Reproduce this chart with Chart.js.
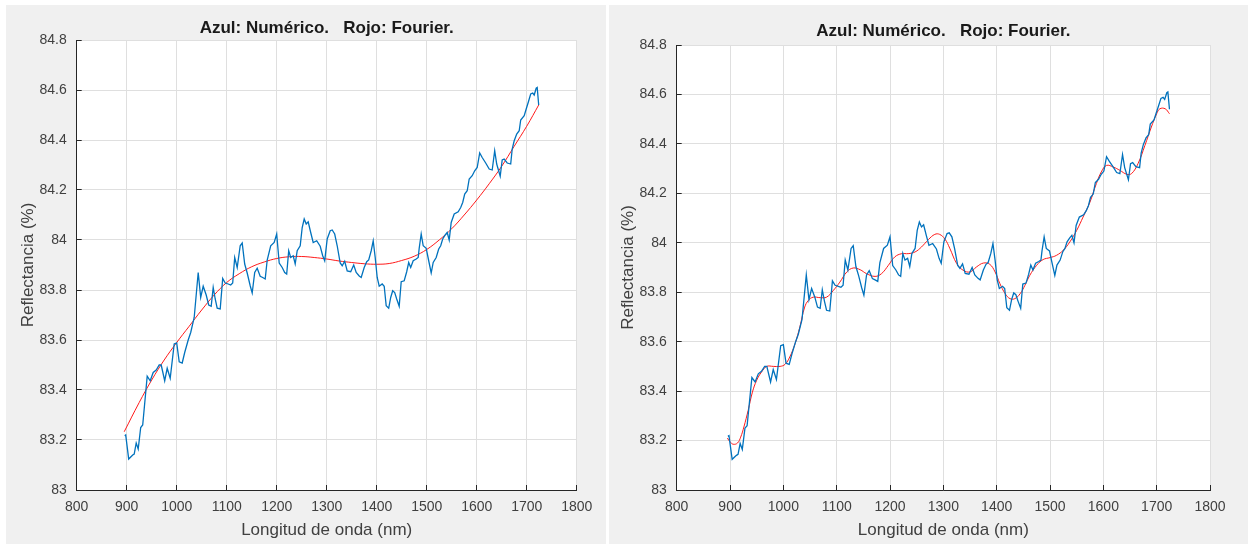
<!DOCTYPE html>
<html>
<head>
<meta charset="utf-8">
<script src="https://cdn.jsdelivr.net/npm/chart.js@4.4.1/dist/chart.umd.min.js"></script>
<style>
  body { margin: 0; background: #fff; width: 1248px; height: 544px; overflow: hidden; position: relative; }
  .panel { position: absolute; top: 5px; height: 539px; background: #f0f0f0; }
  #panelLeft { left: 6px; width: 600px; }
  #panelRight { left: 609px; width: 639px; }
  canvas { display: block; }
</style>
</head>
<body>
<div class="panel" id="panelLeft"><canvas id="chartPoly" width="600" height="539"></canvas></div>
<div class="panel" id="panelRight"><canvas id="chartFourier" width="639" height="539"></canvas></div>
<script>
// measured reflectance (blue)
const wavelength = [896, 898, 904, 912, 915, 919, 923, 928, 932, 938, 941, 947, 953, 959, 965, 969, 976, 981, 987, 995,
  1000, 1005, 1011, 1016, 1023, 1028, 1035, 1043, 1048, 1053, 1059, 1064, 1069, 1073, 1077, 1081, 1087, 1092, 1097,
  1103, 1108, 1112, 1116, 1121, 1127, 1131, 1136, 1141, 1147, 1151, 1156, 1161, 1167, 1172, 1177, 1181, 1188, 1195,
  1200, 1205, 1211, 1216, 1220, 1224, 1228, 1233, 1237, 1241, 1247, 1251, 1255, 1259, 1263, 1268, 1273, 1280, 1287,
  1292, 1296, 1301, 1307, 1311, 1316, 1321, 1327, 1331, 1336, 1341, 1348, 1354, 1359, 1365, 1369, 1375, 1380, 1384,
  1389, 1393, 1397, 1401, 1405, 1411, 1415, 1419, 1424, 1428, 1432, 1436, 1440, 1445, 1449, 1455, 1460, 1464, 1468,
  1473, 1479, 1483, 1485, 1489, 1493, 1499, 1504, 1509, 1513, 1519, 1524, 1528, 1532, 1537, 1541, 1545, 1549, 1555,
  1563, 1568, 1572, 1576, 1581, 1585, 1591, 1596, 1601, 1606, 1611, 1618, 1625, 1631, 1636, 1640, 1647, 1651, 1655,
  1661, 1668, 1671, 1675, 1680, 1685, 1688, 1695, 1699, 1703, 1708, 1712, 1715, 1719, 1721, 1724];
const reflectance = [83.217, 83.22, 83.124, 83.14, 83.144, 83.188, 83.164, 83.25, 83.26, 83.39, 83.455, 83.437, 83.47, 83.48, 83.5, 83.5, 83.437, 83.487, 83.447, 83.584,
  83.588, 83.513, 83.508, 83.55, 83.6, 83.63, 83.69, 83.87, 83.77, 83.815, 83.78, 83.74, 83.735, 83.81, 83.764, 83.727, 83.724, 83.846, 83.828,
  83.824, 83.82, 83.828, 83.93, 83.89, 83.977, 83.988, 83.904, 83.868, 83.817, 83.788, 83.87, 83.887, 83.855, 83.85, 83.844, 83.92, 83.977, 83.99,
  84.024, 83.908, 83.89, 83.87, 83.864, 83.957, 83.93, 83.937, 83.904, 83.957, 83.977, 84.05, 84.084, 84.064, 84.073, 84.03, 83.99, 83.997, 83.975,
  83.937, 83.917, 84.004, 84.037, 84.04, 84.024, 83.977, 83.908, 83.897, 83.915, 83.876, 83.873, 83.9, 83.87, 83.856, 83.85, 83.89, 83.913, 83.92,
  83.957, 83.997, 83.93, 83.85, 83.815, 83.824, 83.815, 83.737, 83.727, 83.77, 83.797, 83.79, 83.764, 83.735, 83.833, 83.837, 83.873, 83.91, 83.89,
  83.917, 83.924, 83.93, 83.967, 84.024, 83.977, 83.967, 83.917, 83.868, 83.91, 83.93, 83.964, 83.977, 84.004, 84.02, 84.03, 84.0, 84.07, 84.104,
  84.113, 84.13, 84.15, 84.184, 84.197, 84.244, 84.257, 84.277, 84.29, 84.348, 84.33, 84.308, 84.284, 84.28, 84.357, 84.304, 84.255, 84.32, 84.324,
  84.308, 84.304, 84.364, 84.397, 84.424, 84.437, 84.48, 84.497, 84.524, 84.55, 84.584, 84.588, 84.58, 84.607, 84.61, 84.54];

// smooth fit (red, left)
const polyWl = [895, 925, 950, 975, 1000, 1025, 1050, 1075, 1100, 1125, 1150, 1175, 1200, 1225, 1250, 1275, 1300,
  1325, 1350, 1375, 1400, 1425, 1450, 1475, 1500, 1525, 1550, 1575, 1600, 1625, 1650, 1675, 1700, 1724];
const polyFit = [83.233, 83.35, 83.44, 83.52, 83.59, 83.655, 83.72, 83.78, 83.83, 83.865, 83.893, 83.912, 83.926, 83.933, 83.934, 83.93, 83.924,
  83.916, 83.91, 83.905, 83.903, 83.906, 83.918, 83.935, 83.962, 84.0, 84.045, 84.1, 84.16, 84.225, 84.295, 84.375, 84.455, 84.54];

// Fourier fit (red, right)
const fourierWl = [895, 900, 906, 914, 920, 926, 934, 942, 950, 959, 969, 981, 994, 1003, 1012, 1022, 1031, 1040, 1047, 1056,
  1069, 1081, 1094, 1106, 1119, 1131, 1144, 1156, 1172, 1184, 1197, 1209, 1222, 1234, 1247, 1259, 1272, 1284, 1293, 1303,
  1312, 1325, 1337, 1350, 1362, 1375, 1387, 1397, 1406, 1416, 1425, 1434, 1444, 1453, 1462, 1475, 1487, 1500, 1512, 1525,
  1537, 1550, 1562, 1575, 1587, 1597, 1606, 1619, 1631, 1644, 1653, 1665, 1678, 1690, 1700, 1706, 1716, 1724];
const fourierFit = [83.21, 83.195, 83.185, 83.19, 83.214, 83.255, 83.322, 83.396, 83.444, 83.477, 83.5, 83.5, 83.5, 83.508, 83.538, 83.592, 83.66, 83.74, 83.767, 83.78,
  83.778, 83.78, 83.808, 83.841, 83.882, 83.898, 83.891, 83.875, 83.864, 83.875, 83.909, 83.943, 83.956, 83.956, 83.963, 83.983, 84.013, 84.034, 84.034, 84.015,
  83.978, 83.916, 83.889, 83.882, 83.902, 83.918, 83.913, 83.882, 83.835, 83.794, 83.774, 83.774, 83.794, 83.828, 83.868, 83.909, 83.932, 83.94, 83.949, 83.97,
  84.003, 84.05, 84.104, 84.165, 84.24, 84.29, 84.313, 84.306, 84.293, 84.277, 84.28, 84.32, 84.394, 84.468, 84.522, 84.542, 84.542, 84.522];

const xRange = [800, 1800];
const yRange = [83, 84.8];
const titleText = 'Azul: Numérico.   Rojo: Fourier.';
const xLabel = 'Longitud de onda (nm)';
const yLabel = 'Reflectancia (%)';

const family = "'Liberation Sans', Arial, sans-serif";
const toPoints = (xs, ys) => xs.map((x, i) => ({ x, y: ys[i] }));

// white plot box
const plotBg = {
  id: 'plotBg',
  beforeDraw(chart) {
    const { ctx, chartArea: a } = chart;
    ctx.save();
    ctx.fillStyle = '#fff';
    ctx.fillRect(a.left, a.top, a.right - a.left, a.bottom - a.top);
    ctx.restore();
  }
};

function makeChart(id, fitWl, fitVals, g) {
  return new Chart(document.getElementById(id), {
    type: 'line',
    data: {
      datasets: [
        {
          data: toPoints(wavelength, reflectance),
          borderColor: '#0072BD',
          borderWidth: 1.3,
          pointRadius: 0,
          tension: 0
        },
        {
          data: toPoints(fitWl, fitVals),
          borderColor: '#ff1a1a',
          borderWidth: 1,
          pointRadius: 0,
          tension: 0.4
        }
      ]
    },
    options: {
      responsive: false,
      animation: false,
      events: [],
      layout: { padding: { top: 0, right: g.padRight, bottom: 0, left: 0 } },
      plugins: {
        legend: { display: false },
        tooltip: { enabled: false },
        title: {
          display: true,
          text: titleText,
          fullSize: false,
          color: '#1a1a1a',
          font: { family, size: 17, weight: 'bold' },
          padding: { top: g.titleTop, bottom: g.titleBottom }
        }
      },
      scales: {
        x: {
          type: 'linear',
          min: xRange[0],
          max: xRange[1],
          afterFit: s => { s.height = 54; },
          ticks: {
            stepSize: 100,
            maxRotation: 0,
            padding: 13.6,
            color: '#404040',
            font: { family, size: 14 },
            callback: v => String(v)
          },
          grid: { color: '#dfdfdf', tickLength: -5, tickColor: '#262626' },
          border: { color: '#262626' },
          title: { display: true, text: xLabel, color: '#404040', font: { family, size: 17 }, padding: { top: 0, bottom: 3.8 } }
        },
        y: {
          type: 'linear',
          min: yRange[0],
          max: yRange[1],
          afterFit: s => { s.width = g.yWidth; },
          ticks: {
            stepSize: 0.2,
            padding: 15,
            color: '#404040',
            font: { family, size: 14 },
            callback: v => String(+v.toFixed(1))
          },
          grid: { color: '#dfdfdf', tickLength: -5, tickColor: '#262626' },
          border: { color: '#262626' },
          title: { display: true, text: yLabel, color: '#404040', font: { family, size: 17 }, padding: { top: g.yTitlePad, bottom: 0 } }
        }
      }
    },
    plugins: [plotBg]
  });
}

makeChart('chartPoly', polyWl, polyFit, { padRight: 29.3, yWidth: 70.7, titleTop: 12.8, titleBottom: 1.8, yTitlePad: 11.8 });
makeChart('chartFourier', fourierWl, fourierFit, { padRight: 38, yWidth: 67.7, titleTop: 15.8, titleBottom: 3.8, yTitlePad: 8.8 });
</script>
</body>
</html>
